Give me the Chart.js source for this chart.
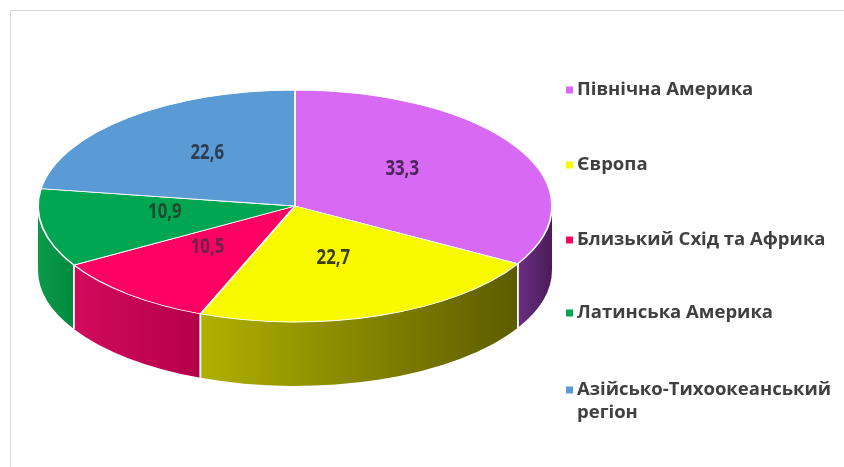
<!DOCTYPE html>
<html>
<head>
<meta charset="utf-8">
<script src="https://cdn.jsdelivr.net/npm/chart.js@4.4.1/dist/chart.umd.min.js"></script>
<style>
  html, body { margin: 0; padding: 0; background: #ffffff; }
  #wrap { position: relative; width: 844px; height: 467px; overflow: hidden; }
  #frame { position: absolute; left: 10px; top: 10px; width: 900px; height: 600px;
           border-left: 1px solid #d9d9d9; border-top: 1px solid #d9d9d9; }
  canvas { position: absolute; left: 0; top: 0; }
</style>
</head>
<body>
<div id="wrap">
  <div id="frame"></div>
  <canvas id="c" width="844" height="467"></canvas>
</div>
<script>
// ---- data ----
const categories = ['Північна Америка', 'Європа', 'Близький Схід та Африка', 'Латинська Америка', 'Азійсько-Тихоокеанський регіон'];
const legendLines = [['Північна Америка'], ['Європа'], ['Близький Схід та Африка'], ['Латинська Америка'], ['Азійсько-Тихоокеанський', 'регіон']];
const shares = [33.3, 22.7, 10.5, 10.9, 22.6];
const valueLabels = ['33,3', '22,7', '10,5', '10,9', '22,6'];

// ---- styles ----
const topColors = ['#d869f4', '#f9f900', '#fc0063', '#00a651', '#5b9bd5'];
const wallLeft  = ['#6a2f80', '#b0b000', '#d20a5c', '#0b9a4a', '#4a7fb0'];
const wallRight = ['#4a1c5a', '#5c5c00', '#b4004a', '#008a40', '#3a6a98'];
const labelColors = ['#4a2658', '#3c3c12', '#6e2448', '#1f4a30', '#2f3d52'];

const CX = 295, CY = 206, RX = 257, RY = 116, DEPTH = 64;
const FONT = '"Open Sans", sans-serif';

function P(a, dy) { return [CX + RX * Math.cos(a), CY + RY * Math.sin(a) + (dy || 0)]; }

const pie3d = {
  id: 'pie3d',
  beforeDatasetsDraw(chart) {
    const ctx = chart.ctx;
    const meta = chart.getDatasetMeta(0);
    // side walls (front half of the ellipse)
    meta.data.forEach((arc, i) => {
      const a1 = Math.max(arc.startAngle, 0);
      const a2 = Math.min(arc.endAngle, Math.PI);
      if (a2 <= a1) return;
      const xr = P(a1)[0], xl = P(a2)[0];
      const g = ctx.createLinearGradient(xl, 0, xr, 0);
      g.addColorStop(0, wallLeft[i]);
      g.addColorStop(1, wallRight[i]);
      ctx.save();
      ctx.beginPath();
      ctx.ellipse(CX, CY, RX, RY, 0, a1, a2, false);
      ctx.ellipse(CX, CY + DEPTH, RX, RY, 0, a2, a1, true);
      ctx.closePath();
      ctx.fillStyle = g;
      ctx.fill();
      ctx.restore();
    });
    // white separators on the wall
    ctx.save();
    ctx.strokeStyle = '#ffffff';
    ctx.lineWidth = 1.5;
    meta.data.forEach((arc) => {
      [arc.startAngle, arc.endAngle].forEach((a) => {
        if (a > 0.02 && a < Math.PI - 0.02) {
          const t = P(a), b = P(a, DEPTH);
          ctx.beginPath(); ctx.moveTo(t[0], t[1]); ctx.lineTo(b[0], b[1]); ctx.stroke();
        }
      });
    });
    ctx.restore();
    // map library's circle onto the ellipse top face
    const el = meta.data[0];
    ctx.save();
    ctx.translate(CX, CY);
    ctx.scale(RX / el.outerRadius, RY / el.outerRadius);
    ctx.translate(-el.x, -el.y);
  },
  afterDatasetsDraw(chart) {
    const ctx = chart.ctx;
    ctx.restore();
    const meta = chart.getDatasetMeta(0);
    // value labels
    ctx.font = 'bold 21px ' + FONT;
    ctx.textAlign = 'center';
    ctx.textBaseline = 'middle';
    meta.data.forEach((arc, i) => {
      const mid = (arc.startAngle + arc.endAngle) / 2;
      const x = CX - 4 + RX * 0.5 * Math.cos(mid);
      const y = CY - 6 + RY * 0.53 * Math.sin(mid);
      ctx.save();
      ctx.translate(x, y);
      ctx.scale(0.8, 1);
      ctx.fillStyle = labelColors[i];
      ctx.fillText(valueLabels[i], 0, 0);
      ctx.restore();
    });
    // legend
    ctx.save();
    ctx.font = 'bold 18.5px ' + FONT;
    ctx.textBaseline = 'middle';
    ctx.textAlign = 'left';
    const ys = [90, 165, 240, 313, 390];
    legendLines.forEach((lines, i) => {
      ctx.fillStyle = topColors[i];
      ctx.fillRect(566, ys[i] - 3.5, 7, 7);
      ctx.fillStyle = '#404040';
      lines.forEach((t, k) => ctx.fillText(t, 577, ys[i] + k * 23));
    });
    ctx.restore();
  }
};

new Chart(document.getElementById('c'), {
  type: 'pie',
  data: {
    labels: categories,
    datasets: [{
      data: shares,
      backgroundColor: topColors,
      borderColor: '#ffffff',
      borderWidth: 1.5,
      clip: false
    }]
  },
  options: {
    responsive: false,
    animation: false,
    layout: { padding: 20 },
    plugins: { legend: { display: false }, tooltip: { enabled: false } }
  },
  plugins: [pie3d]
});
</script>
</body>
</html>
